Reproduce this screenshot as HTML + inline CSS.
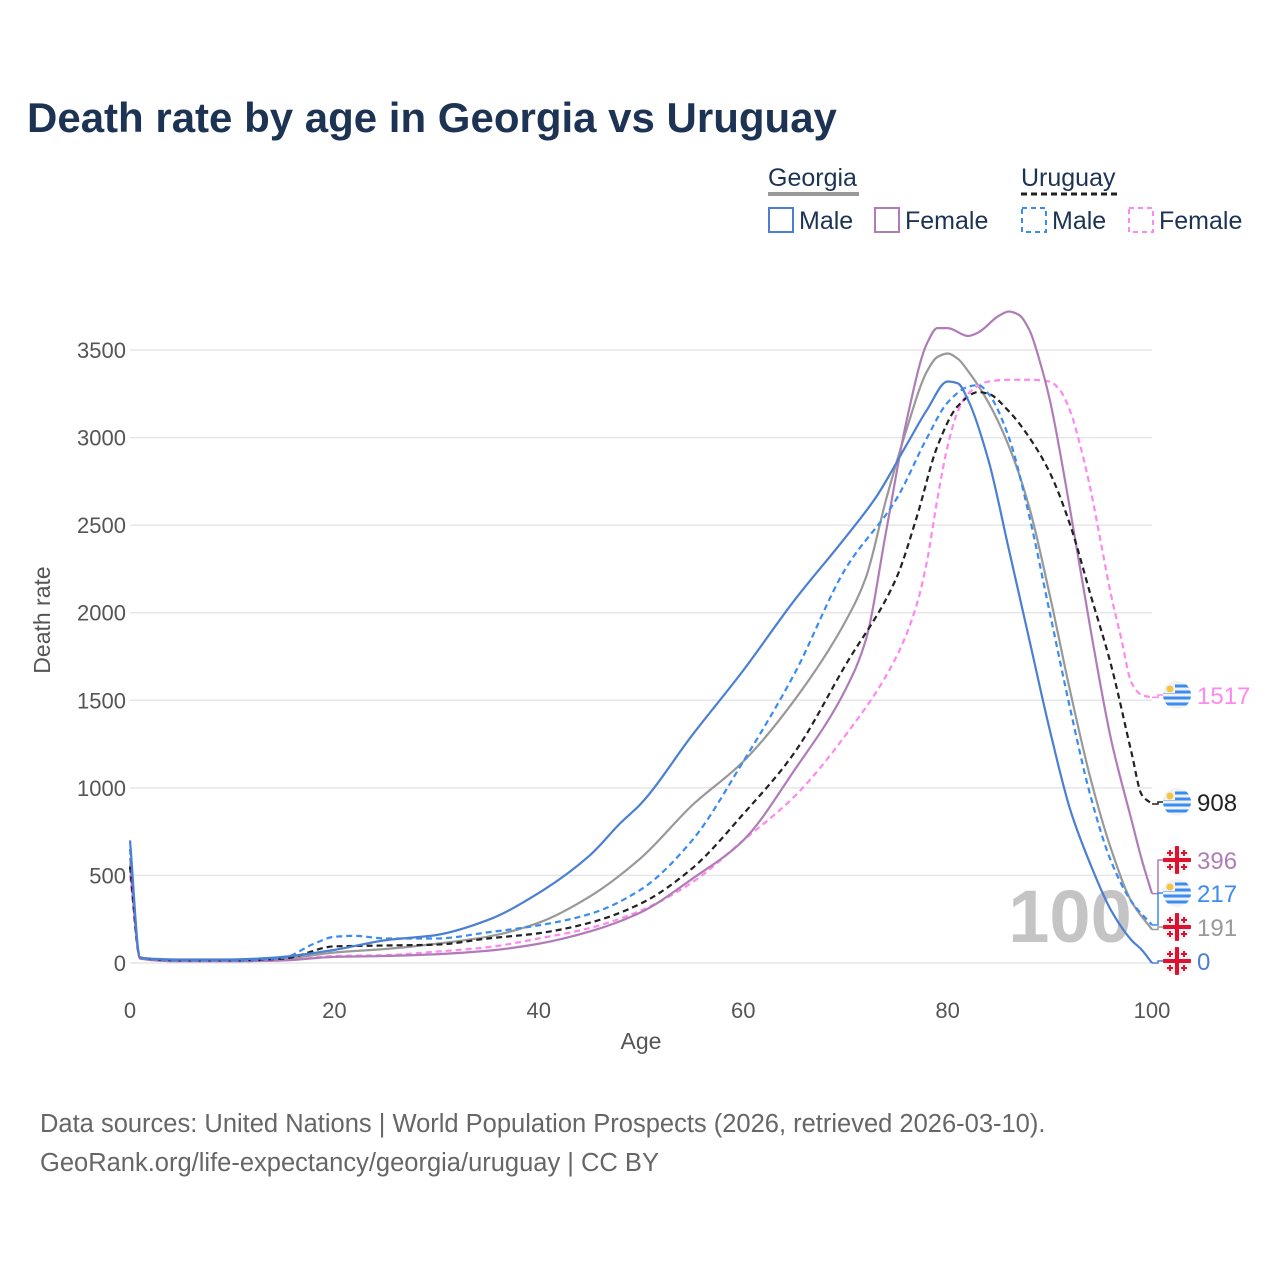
<!DOCTYPE html>
<html><head><meta charset="utf-8"><style>
body{margin:0;background:#fff;width:1280px;height:1280px;overflow:hidden;font-family:"Liberation Sans",sans-serif}
svg text{font-family:"Liberation Sans",sans-serif}
</style></head><body>
<svg id="chart" width="1280" height="1280" xmlns="http://www.w3.org/2000/svg">
<defs><clipPath id="flagclip"><circle cx="0" cy="0" r="14"/></clipPath></defs>
<text x="27" y="132" font-size="42" font-weight="bold" fill="#1c3354">Death rate by age in Georgia vs Uruguay</text>
<g font-size="25" fill="#1c3354">
<text x="768" y="186" fill="#1c3354">Georgia</text>
<line x1="768" y1="194" x2="859" y2="194" stroke="#999" stroke-width="4"/>
<text x="1021" y="186" fill="#1c3354">Uruguay</text>
<line x1="1021" y1="194" x2="1119" y2="194" stroke="#222" stroke-width="3" stroke-dasharray="6,4"/>
<g><rect x="769" y="208" width="24" height="24" fill="none" stroke="#4a7fd4" stroke-width="2"/><text x="799" y="229" fill="#1c3354">Male</text></g>
<g><rect x="875" y="208" width="24" height="24" fill="none" stroke="#b07cb8" stroke-width="2"/><text x="905" y="229" fill="#1c3354">Female</text></g>
<g><rect x="1022" y="208" width="24" height="24" fill="none" stroke="#3a8cf0" stroke-width="2" stroke-dasharray="5,4"/><text x="1052" y="229" fill="#1c3354">Male</text></g>
<g><rect x="1129" y="208" width="24" height="24" fill="none" stroke="#ff88ee" stroke-width="2" stroke-dasharray="5,4"/><text x="1159" y="229" fill="#1c3354">Female</text></g>
</g>
<g id="grid"></g>
<text x="1070" y="942" font-size="74" font-weight="bold" fill="#c4c4c4" text-anchor="middle">100</text>
<g id="series"></g>
<g id="labels"></g>
<text transform="translate(50,620) rotate(-90)" font-size="23" fill="#555" text-anchor="middle">Death rate</text>
<text x="641" y="1049" font-size="23" fill="#555" text-anchor="middle">Age</text>
<text x="40" y="1132" font-size="25.5" fill="#666">Data sources: United Nations | World Population Prospects (2026, retrieved 2026-03-10).</text>
<text x="40" y="1171" font-size="25.5" fill="#666">GeoRank.org/life-expectancy/georgia/uruguay | CC BY</text>
</svg>
<script>
const xTicks=[0,20,40,60,80,100];
const yTicks=[0,500,1000,1500,2000,2500,3000,3500];
const geoMaleAges=[0,1,5,10,14,20,25,30,35,40,45,48,50,55,60,65,70,73,76,78,80,81,82,84,86,88,90,92,94,96,98,99,100];
const geoMaleVals=[700,30,20,20,30,75,130,160,245,400,615,800,910,1300,1670,2070,2430,2660,2960,3160,3320,3310,3215,2870,2360,1845,1330,875,560,300,130,75,0];
const geoFemAges=[0,1,5,10,15,20,25,30,35,40,45,50,55,60,65,70,72,74,76,78,79,80,82,83,85,86,87,88,89,90,92,94,96,98,99,100];
const geoFemVals=[560,25,10,10,15,35,40,50,70,110,180,290,480,700,1100,1560,1845,2470,3100,3540,3625,3625,3580,3600,3695,3720,3700,3615,3440,3215,2585,1900,1275,815,590,396];
const geoAllAges=[0,1,5,10,15,20,25,30,35,40,45,50,55,60,65,70,72,74,76,78,79,80,81,82,84,86,88,90,92,94,96,98,100];
const geoAllVals=[600,30,15,15,25,60,80,110,150,230,380,600,900,1150,1500,1950,2200,2650,3050,3380,3460,3480,3450,3380,3200,2950,2600,2100,1550,1050,650,350,191];
const uryMaleAges=[0,1,5,10,15,18,20,22,25,30,35,40,45,50,55,60,65,70,75,78,80,82,83,84,86,88,90,92,94,96,98,100];
const uryMaleVals=[650,30,15,15,30,110,150,155,140,140,175,215,280,420,700,1150,1650,2250,2650,3000,3200,3290,3300,3250,3000,2550,2000,1450,950,580,350,217];
const uryAllAges=[0,1,5,10,15,20,25,30,35,40,45,50,55,60,65,70,75,77,79,81,83,84,86,88,90,92,94,96,98,99,100];
const uryAllVals=[550,30,15,15,25,95,100,105,140,170,230,340,540,850,1200,1700,2200,2550,2950,3180,3260,3250,3150,3000,2800,2500,2100,1700,1200,960,908];
const uryFemAges=[0,1,5,10,15,20,25,30,35,40,45,50,55,60,65,70,75,77,78,79,80,81,82,84,86,88,90,91,92,93,94,95,96,97,98,99,100];
const uryFemVals=[500,25,10,10,15,40,45,65,90,140,200,300,460,700,950,1300,1750,2050,2300,2650,2950,3150,3250,3320,3330,3330,3320,3270,3150,2950,2700,2400,2100,1850,1600,1530,1517];
const endLabels=[1517,908,396,217,191,0];

const NS="http://www.w3.org/2000/svg";
const X=a=>130+a*10.22;
const Y=v=>963-v*0.17514;
function mk(t,at,parent){const e=document.createElementNS(NS,t);for(const k in at)e.setAttribute(k,at[k]);parent.appendChild(e);return e;}
const grid=document.getElementById('grid');
yTicks.forEach(v=>{
  const l=mk('line',{x1:130,x2:1152,y1:Y(v),y2:Y(v),stroke:'#e6e6e6','stroke-width':1.5},grid);
  
  
  const t=mk('text',{x:126,y:Y(v)+8,'font-size':22,fill:'#555','text-anchor':'end'},grid);
  t.textContent=v;
  
  
});
xTicks.forEach(a=>{
  const t=mk('text',{x:X(a),y:1018,'font-size':22,fill:'#555','text-anchor':'middle'},grid);
  t.textContent=a;
  
  
});
function pathD(ages,vals){
  const n=ages.length, xs=ages.map(X), ys=vals.map(Y);
  const d=[],m=new Array(n);
  for(let i=0;i<n-1;i++)d.push((ys[i+1]-ys[i])/(xs[i+1]-xs[i]));
  m[0]=d[0];m[n-1]=d[n-2];
  for(let i=1;i<n-1;i++){
    if(d[i-1]*d[i]<=0)m[i]=0;
    else{const h0=xs[i]-xs[i-1],h1=xs[i+1]-xs[i];const w1=2*h1+h0,w2=h1+2*h0;m[i]=(w1+w2)/(w1/d[i-1]+w2/d[i]);}
  }
  let s='M'+xs[0]+','+ys[0];
  for(let i=0;i<n-1;i++){
    const h=(xs[i+1]-xs[i])/3;
    s+=` C${xs[i]+h},${ys[i]+m[i]*h} ${xs[i+1]-h},${ys[i+1]-m[i+1]*h} ${xs[i+1]},${ys[i+1]}`;
  }
  return s;
}
const series=document.getElementById('series');
const defs=[
 ['line-georgia-total',geoAllAges,geoAllVals,'#999',''],
 ['line-uruguay-female',uryFemAges,uryFemVals,'#ff88ee','6,4'],
 ['line-georgia-female',geoFemAges,geoFemVals,'#b07cb8',''],
 ['line-uruguay-total',uryAllAges,uryAllVals,'#222','6,4'],
 ['line-uruguay-male',uryMaleAges,uryMaleVals,'#3a8cf0','6,4'],
 ['line-georgia-male',geoMaleAges,geoMaleVals,'#4a7fd4','']
];
defs.forEach(s=>{
  const e=mk('path',{d:pathD(s[1],s[2]),fill:'none',stroke:s[3],'stroke-width':2.2},series);
  if(s[4])e.setAttribute('stroke-dasharray',s[4]);
  
  
});
const labs=document.getElementById('labels');
const labInfo=[['#ff88ee','uy',695],['#222','uy',802],['#b07cb8','ge',860],['#3a8cf0','uy',893],['#999','ge',927],['#4a7fd4','ge',961]];
endLabels.forEach((v,i)=>{
  const [c,f,ly]=labInfo[i];
  const g=mk('g',{},labs);
  
  
  const ey=Y(v);
  mk('path',{d:`M1152,${ey} L1158,${ey} L1158,${ly} L1163,${ly}`,fill:'none',stroke:c,'stroke-width':1.5},g);
  const fg=mk('g',{transform:`translate(1177,${ly})`,'clip-path':'url(#flagclip)'},g);
  
  
  mk('circle',{cx:0,cy:0,r:14,fill:'#f2f2f2'},fg);
  if(f==='uy'){
    [-9,-3,3,9].forEach(o=>mk('rect',{x:-14,y:o-1.5,width:28,height:3,fill:'#3a8cf0'},fg));
    mk('rect',{x:-14,y:-14,width:12,height:12,fill:'#f2f2f2'},fg);
    mk('circle',{cx:-7,cy:-6,r:3.5,fill:'#f5c542'},fg);
  }else{
    mk('rect',{x:-14,y:-2,width:28,height:4,fill:'#e0102f'},fg);
    mk('rect',{x:-2,y:-14,width:4,height:28,fill:'#e0102f'},fg);
    [[-7,-7],[7,-7],[-7,7],[7,7]].forEach(([dx,dy])=>{
      mk('rect',{x:dx-3,y:dy-1,width:6,height:2,fill:'#e0102f'},fg);
      mk('rect',{x:dx-1,y:dy-3,width:2,height:6,fill:'#e0102f'},fg);
    });
  }
  const t=mk('text',{x:1197,y:ly+9,'font-size':24,fill:c},g);
  t.textContent=v;
});
</script>
</body></html>
